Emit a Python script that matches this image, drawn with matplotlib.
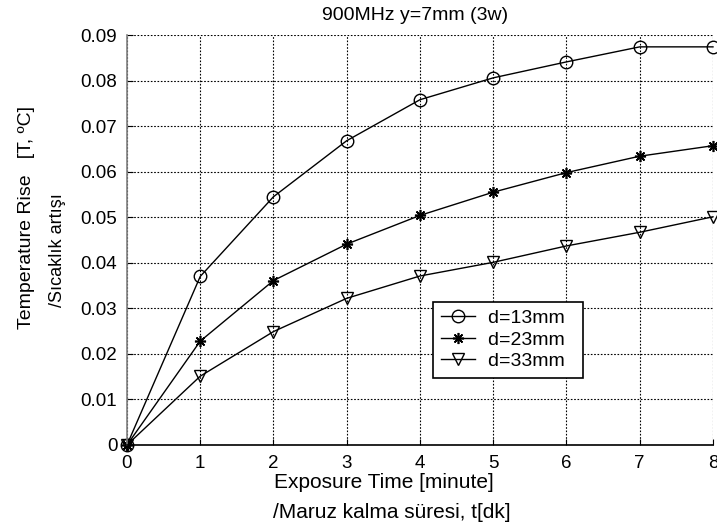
import matplotlib
matplotlib.use("Agg")
import matplotlib.pyplot as plt

plt.rcParams["font.family"] = ["Liberation Sans", "DejaVu Sans"]

# exposure time [minute]
t = [0, 1, 2, 3, 4, 5, 6, 7, 8]
# temperature rise for each distance
d13 = [0, 0.0370, 0.0545, 0.0668, 0.0758, 0.0806, 0.0841, 0.0874, 0.0874]
d23 = [0, 0.0228, 0.0361, 0.0441, 0.0504, 0.0555, 0.0598, 0.0634, 0.0657]
d33 = [0, 0.0151, 0.0249, 0.0322, 0.0371, 0.0401, 0.0437, 0.0467, 0.0501]
labels = ["d=13mm", "d=23mm", "d=33mm"]
yticks = [0, 0.01, 0.02, 0.03, 0.04, 0.05, 0.06, 0.07, 0.08, 0.09]
ytick_labels = ["0", "0.01", "0.02", "0.03", "0.04", "0.05", "0.06", "0.07", "0.08", "0.09"]

fig = plt.figure(figsize=(7.17, 5.29), dpi=100)
ax = fig.add_axes([0.1771, 0.1588, 0.8173, 0.775])

# trailing spaces give the wider right margin of the old matlab legend box
ax.plot(t, d13, "k-", marker="o", mfc="none", ms=9, lw=1, clip_on=False, label=labels[0] + "  ")
ax.plot(t, d23, "k-", marker=(8, 2, 0), ms=8, mew=1.2, lw=1, clip_on=False, label=labels[1] + "  ")
ax.plot(t, d33, "k-", marker="v", mfc="none", ms=9, lw=1, clip_on=False, label=labels[2] + "  ")

ax.set_xlim(0, 8)
ax.set_ylim(0, 0.09)
ax.set_xticks(t)
ax.set_yticks(yticks)
ax.set_yticklabels(ytick_labels)
ax.tick_params(direction="in", length=4, labelsize=13.5, pad=7)
ax.grid(True, color="black", linestyle=(0, (1.5, 1.5)), linewidth=0.8)

for side in ["top", "right"]:
    ax.spines[side].set_visible(False)
ax.spines["left"].set_color("#808080")
ax.spines["left"].set_linewidth(1.2)
ax.spines["bottom"].set_linewidth(1.2)

leg = ax.legend(loc="upper left", bbox_to_anchor=(0.522, 0.349), borderaxespad=0,
                fontsize=14, handlelength=1.75, handletextpad=0.67, labelspacing=0.2,
                borderpad=0.4, fancybox=False, edgecolor="black", framealpha=1)
leg.get_frame().set_linewidth(1.2)

fig.text(415 / 717, 1 - 15 / 529, "900MHz y=7mm (3w)", ha="center", va="center", fontsize=14)
fig.text(274 / 717, 1 - 488 / 529, "Exposure Time [minute]", ha="left", va="baseline", fontsize=15)
fig.text(273 / 717, 1 - 518 / 529, "/Maruz kalma süresi, t[dk]", ha="left", va="baseline", fontsize=15)
fig.text(27 / 717, 1 - 218 / 529, "Temperature Rise   [T, ºC]", rotation=90,
         ha="center", va="center", fontsize=14)
fig.text(58 / 717, 1 - 250 / 529, "/Sıcaklık artışı", rotation=90,
         ha="center", va="center", fontsize=13)

fig.savefig("out.png", dpi=100)
